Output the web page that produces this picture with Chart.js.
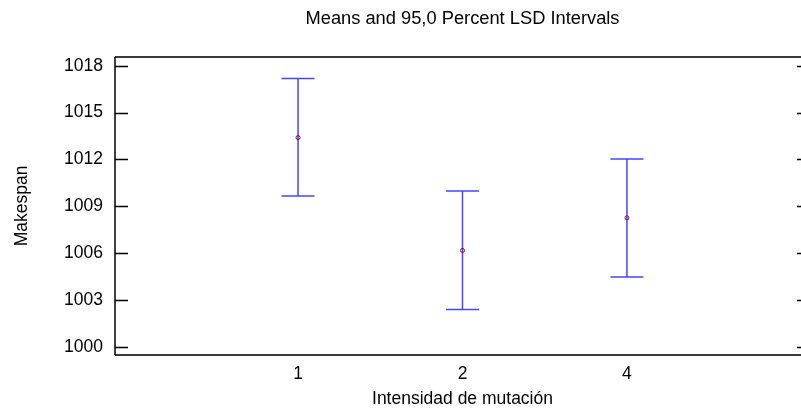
<!DOCTYPE html>
<html lang="es">
<head>
<meta charset="utf-8">
<title>Means and 95,0 Percent LSD Intervals</title>
<script src="https://cdn.jsdelivr.net/npm/chart.js@4.4.1/dist/chart.umd.min.js"></script>
<style>
  html, body { margin: 0; padding: 0; overflow: hidden; background: #fff; }
  #grafica { display: block; }
</style>
</head>
<body>
<canvas id="grafica" width="815" height="416"></canvas>
<script>
// Datos (medias e intervalos LSD al 95%)
const niveles = ['1', '2', '4'];
const posiciones = [1, 2, 3];
const medias = [1013.40, 1006.17, 1008.26];
const limiteInferior = [1009.65, 1002.38, 1004.47];
const limiteSuperior = [1017.18, 1009.97, 1012.02];
const marcasEjeY = [1000, 1003, 1006, 1009, 1012, 1015, 1018];

const fuente = { family: '"Liberation Sans", Arial, sans-serif', size: 17.5, weight: 'normal' };
const fuenteTitulo = { family: '"Liberation Sans", Arial, sans-serif', size: 18.3, weight: 'normal' };

// Dibuja las barras de intervalo (antes de los puntos para que queden debajo)
const pluginIntervalos = {
  id: 'intervalos',
  beforeDatasetsDraw(chart) {
    const { ctx, scales: { x, y } } = chart;
    ctx.save();
    ctx.strokeStyle = '#4646ff';
    ctx.lineWidth = 1.5;
    posiciones.forEach((p, i) => {
      const px = x.getPixelForValue(p);
      const yBajo = y.getPixelForValue(limiteInferior[i]);
      const yAlto = y.getPixelForValue(limiteSuperior[i]);
      ctx.beginPath();
      ctx.moveTo(px, yBajo);
      ctx.lineTo(px, yAlto);
      ctx.moveTo(px - 16.5, yAlto);
      ctx.lineTo(px + 16.5, yAlto);
      ctx.moveTo(px - 16.5, yBajo);
      ctx.lineTo(px + 16.5, yBajo);
      ctx.stroke();
    });
    ctx.restore();
  }
};

// Marco del área de trazado y marcas hacia dentro en ambos lados
const pluginMarco = {
  id: 'marco',
  afterDraw(chart) {
    const { ctx, chartArea: a, scales: { y } } = chart;
    ctx.save();
    ctx.strokeStyle = '#000';
    ctx.lineWidth = 1.5;
    y.ticks.forEach(t => {
      const py = Math.round(y.getPixelForValue(t.value)) + 0.5;
      ctx.beginPath();
      ctx.moveTo(a.left, py);
      ctx.lineTo(a.left + 13, py);
      ctx.moveTo(a.right, py);
      ctx.lineTo(a.right - 13, py);
      ctx.stroke();
    });
    ctx.strokeStyle = '#3a3a3a';
    ctx.lineWidth = 2;
    ctx.beginPath();
    ctx.moveTo(a.left, a.top);
    ctx.lineTo(a.right, a.top);
    ctx.moveTo(a.left, a.bottom);
    ctx.lineTo(a.right, a.bottom);
    ctx.stroke();
    ctx.strokeStyle = '#000';
    ctx.lineWidth = 1.5;
    ctx.beginPath();
    ctx.moveTo(a.left, a.top);
    ctx.lineTo(a.left, a.bottom);
    ctx.moveTo(a.right, a.top);
    ctx.lineTo(a.right, a.bottom);
    ctx.stroke();
    ctx.restore();
  }
};

const ctx = document.getElementById('grafica').getContext('2d');
const grafica = new Chart(ctx, {
  type: 'scatter',
  data: {
    datasets: [{
      label: 'Medias',
      data: posiciones.map((p, i) => ({ x: p, y: medias[i] })),
      pointRadius: 2,
      pointBorderWidth: 1,
      pointBorderColor: '#8a0040',
      pointBackgroundColor: 'rgba(0,0,0,0)'
    }]
  },
  options: {
    responsive: false,
    animation: false,
    layout: { padding: { left: 0, right: 0, top: 0, bottom: 0 } },
    plugins: {
      legend: { display: false },
      tooltip: { enabled: false }
    },
    scales: {
      x: {
        type: 'linear',
        min: -0.113,
        max: 4.113,
        grid: { display: false, drawTicks: false },
        border: { display: false },
        afterBuildTicks: s => { s.ticks = posiciones.map(v => ({ value: v })); },
        afterFit: s => { s.height = 61; },
        ticks: {
          color: '#000',
          font: fuente,
          padding: 8.5,
          callback: (v) => niveles[posiciones.indexOf(v)]
        },
        title: {
          display: true,
          text: 'Intensidad de mutación',
          color: '#000',
          font: fuente,
          padding: { top: 0, bottom: 6.5 }
        }
      },
      // Eje superior solo para centrar el título sobre el área de trazado
      arriba: {
        type: 'linear',
        position: 'top',
        min: -0.113,
        max: 4.113,
        grid: { display: false, drawTicks: false },
        border: { display: false },
        ticks: { display: false },
        afterFit: s => { s.height = 57; },
        title: {
          display: true,
          text: 'Means and 95,0 Percent LSD Intervals',
          color: '#000',
          font: fuenteTitulo,
          padding: { top: 7.5, bottom: 0 }
        }
      },
      y: {
        min: 999.47,
        max: 1018.56,
        grid: { display: false, drawTicks: false },
        border: { display: false },
        afterBuildTicks: s => { s.ticks = marcasEjeY.map(v => ({ value: v })); },
        afterFit: s => { s.width = 115; },
        ticks: {
          color: '#000',
          font: fuente,
          padding: 12,
          callback: (v) => String(v)
        },
        title: {
          display: true,
          text: 'Makespan',
          color: '#000',
          font: fuente,
          padding: { top: 11.5, bottom: 0 }
        }
      }
    }
  },
  plugins: [pluginIntervalos, pluginMarco]
});
</script>
</body>
</html>
